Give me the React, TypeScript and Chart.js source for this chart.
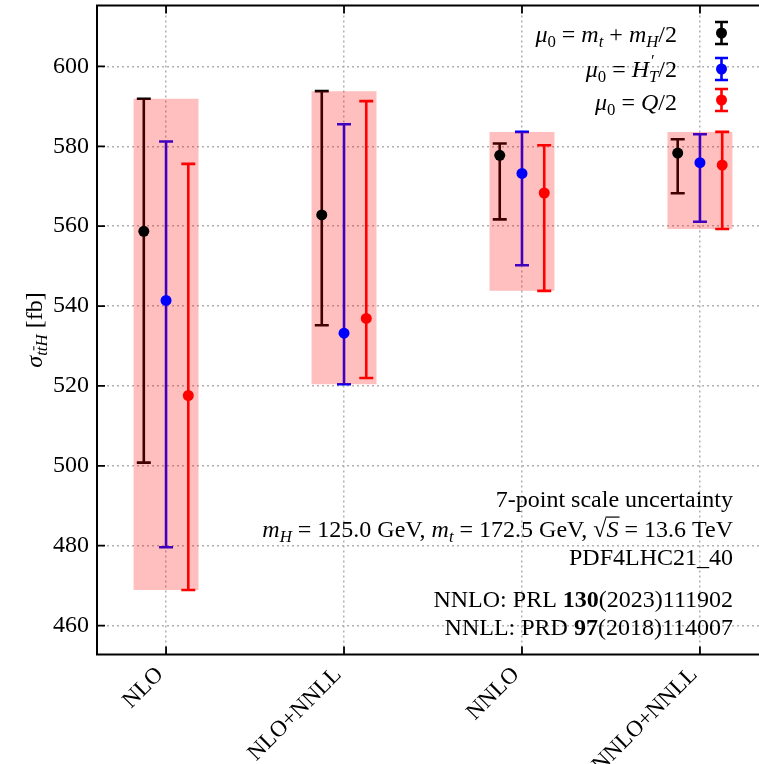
import React, { useEffect, useRef } from 'react';
import { Chart, registerables } from 'chart.js';

Chart.register(...registerables);

// ---------------- data ----------------
const categories = ['NLO', 'NLO+NNLL', 'NNLO', 'NNLO+NNLL'];
const yTickValues = [460, 480, 500, 520, 540, 560, 580, 600];

// mu0 = mt + mH/2 (black)
const blackCentral = [558.7, 562.8, 577.75, 578.3];
const blackLow = [500.8, 535.2, 561.7, 568.25];
const blackHigh = [591.9, 593.8, 580.7, 581.75];
// mu0 = H'_T/2 (blue)
const blueCentral = [541.4, 533.2, 573.2, 575.9];
const blueLow = [479.6, 520.4, 550.2, 561.1];
const blueHigh = [581.2, 585.5, 583.6, 583.0];
// mu0 = Q/2 (red)
const redCentral = [517.6, 536.9, 568.3, 575.3];
const redLow = [468.9, 522.0, 543.8, 559.3];
const redHigh = [575.6, 591.3, 580.25, 583.6];

const seriesNames = ['mu0 = mt + mH/2', "mu0 = H'T/2", 'mu0 = Q/2'];
const seriesColors = ['#000000', '#0000ff', '#ff0000'];
const seriesOffsets = [-0.125, 0, 0.125];

const series = [
  { color: seriesColors[0], c: blackCentral, lo: blackLow, hi: blackHigh },
  { color: seriesColors[1], c: blueCentral, lo: blueLow, hi: blueHigh },
  { color: seriesColors[2], c: redCentral, lo: redLow, hi: redHigh },
];

const boxLow = categories.map((_, i) => Math.min(blackLow[i], blueLow[i], redLow[i]));
const boxHigh = categories.map((_, i) => Math.max(blackHigh[i], blueHigh[i], redHigh[i]));

// ---------------- rich text helpers ----------------
type Run = {
  t?: string;
  it?: boolean;
  b?: boolean;
  sub?: boolean;
  sup?: boolean;
  bar?: boolean;
  over?: boolean;
  stack?: [string, string];
};

const FAMILY = '"Liberation Serif", "Times New Roman", Times, serif';
const BASE = 24;

function fontOf(size: number, it?: boolean, b?: boolean) {
  return `${it ? 'italic ' : ''}${b ? 'bold ' : ''}${size}px ${FAMILY}`;
}

function runWidth(ctx: CanvasRenderingContext2D, r: Run, base: number) {
  if (r.stack) {
    ctx.font = fontOf(base * 0.7, true, false);
    return Math.max(ctx.measureText(r.stack[0]).width, ctx.measureText(r.stack[1]).width);
  }
  const s = r.sub || r.sup ? base * 0.7 : base;
  ctx.font = fontOf(s, r.it, r.b);
  return ctx.measureText(r.t || '').width;
}

function drawRuns(
  ctx: CanvasRenderingContext2D,
  runs: Run[],
  x: number,
  y: number,
  base: number,
  align: 'left' | 'right' | 'center'
) {
  const widths = runs.map((r) => runWidth(ctx, r, base));
  const total = widths.reduce((a, b) => a + b, 0);
  let cx = align === 'right' ? x - total : align === 'center' ? x - total / 2 : x;
  ctx.textAlign = 'left';
  ctx.textBaseline = 'alphabetic';
  ctx.fillStyle = '#000';
  ctx.strokeStyle = '#000';
  runs.forEach((r, k) => {
    const w = widths[k];
    if (r.stack) {
      ctx.font = fontOf(base * 0.7, true, false);
      ctx.fillText(r.stack[0], cx + 1, y - base * 0.45);
      ctx.fillText(r.stack[1], cx, y + base * 0.22);
    } else {
      const s = r.sub || r.sup ? base * 0.7 : base;
      const dy = r.sub ? base * 0.22 : r.sup ? -base * 0.42 : 0;
      ctx.font = fontOf(s, r.it, r.b);
      ctx.fillText(r.t || '', cx, y + dy);
      if (r.bar) {
        ctx.lineWidth = 1;
        ctx.beginPath();
        ctx.moveTo(cx + w * 0.15, y + dy - s * 0.8);
        ctx.lineTo(cx + w * 1.05, y + dy - s * 0.8);
        ctx.stroke();
      }
      if (r.over) {
        ctx.lineWidth = 1.2;
        ctx.beginPath();
        ctx.moveTo(cx - 1, y - s * 0.83);
        ctx.lineTo(cx + w + 1, y - s * 0.83);
        ctx.stroke();
      }
    }
    cx += w;
  });
}

const legendRuns: Run[][] = [
  [
    { t: 'μ', it: true }, { t: '0', sub: true }, { t: ' = ' },
    { t: 'm', it: true }, { t: 't', it: true, sub: true }, { t: ' + ' },
    { t: 'm', it: true }, { t: 'H', it: true, sub: true }, { t: '/2' },
  ],
  [
    { t: 'μ', it: true }, { t: '0', sub: true }, { t: ' = ' },
    { t: 'H', it: true }, { stack: ['′', 'T'] }, { t: '/2' },
  ],
  [
    { t: 'μ', it: true }, { t: '0', sub: true }, { t: ' = ' },
    { t: 'Q', it: true }, { t: '/2' },
  ],
];

const annotationRuns: Run[][] = [
  [{ t: '7-point scale uncertainty' }],
  [
    { t: 'm', it: true }, { t: 'H', it: true, sub: true }, { t: ' = 125.0 GeV, ' },
    { t: 'm', it: true }, { t: 't', it: true, sub: true }, { t: ' = 172.5 GeV, ' },
    { t: '√' }, { t: 'S', it: true, over: true }, { t: ' = 13.6 TeV' },
  ],
  [{ t: 'PDF4LHC21_40' }],
  [{ t: 'NNLO: PRL ' }, { t: '130', b: true }, { t: '(2023)111902' }],
  [{ t: 'NNLL: PRD ' }, { t: '97', b: true }, { t: '(2018)114007' }],
];
const annotationBaselines = [507, 537, 565, 607, 635];

const yTitleRuns: Run[] = [
  { t: 'σ', it: true },
  { t: 't', it: true, sub: true },
  { t: 't', it: true, sub: true, bar: true },
  { t: 'H', it: true, sub: true },
  { t: ' [fb]' },
];

// ---------------- plugins ----------------
const errorBarPlugin = {
  id: 'errorBars',
  beforeDatasetsDraw(chart: any) {
    const { ctx, scales } = chart;
    const x = scales.x;
    const y = scales.y;
    ctx.save();
    series.forEach((s, k) => {
      categories.forEach((_, i) => {
        const px = x.getPixelForValue(i + seriesOffsets[k]);
        const yl = y.getPixelForValue(s.lo[i]);
        const yh = y.getPixelForValue(s.hi[i]);
        ctx.strokeStyle = s.color;
        ctx.lineWidth = 2.6;
        ctx.beginPath();
        ctx.moveTo(px, yl);
        ctx.lineTo(px, yh);
        ctx.moveTo(px - 7, yl);
        ctx.lineTo(px + 7, yl);
        ctx.moveTo(px - 7, yh);
        ctx.lineTo(px + 7, yh);
        ctx.stroke();
      });
    });
    ctx.restore();
  },
};

const overlayPlugin = {
  id: 'overlay',
  afterDraw(chart: any) {
    const { ctx, chartArea, scales } = chart;
    const x = scales.x;
    const y = scales.y;
    ctx.save();
    // frame
    ctx.strokeStyle = '#000';
    ctx.lineWidth = 2;
    ctx.strokeRect(chartArea.left, chartArea.top, chartArea.right - chartArea.left, chartArea.bottom - chartArea.top);
    // inward ticks
    ctx.lineWidth = 1.8;
    ctx.beginPath();
    yTickValues.forEach((v) => {
      const py = y.getPixelForValue(v);
      ctx.moveTo(chartArea.left, py);
      ctx.lineTo(chartArea.left + 8, py);
      ctx.moveTo(chartArea.right, py);
      ctx.lineTo(chartArea.right - 8, py);
    });
    categories.forEach((_, i) => {
      const px = x.getPixelForValue(i);
      ctx.moveTo(px, chartArea.bottom);
      ctx.lineTo(px, chartArea.bottom - 8);
      ctx.moveTo(px, chartArea.top);
      ctx.lineTo(px, chartArea.top + 8);
    });
    ctx.stroke();

    // legend
    const legendMarkerX = 721.5;
    const legendCenters = [33, 69, 100];
    const legendBaselines = [41.7, 76.7, 110];
    seriesColors.forEach((col, k) => {
      const cy = legendCenters[k];
      ctx.strokeStyle = col;
      ctx.fillStyle = col;
      ctx.lineWidth = 2.6;
      ctx.beginPath();
      ctx.moveTo(legendMarkerX, cy - 11);
      ctx.lineTo(legendMarkerX, cy + 11);
      ctx.moveTo(legendMarkerX - 6.5, cy - 11);
      ctx.lineTo(legendMarkerX + 6.5, cy - 11);
      ctx.moveTo(legendMarkerX - 6.5, cy + 11);
      ctx.lineTo(legendMarkerX + 6.5, cy + 11);
      ctx.stroke();
      ctx.beginPath();
      ctx.arc(legendMarkerX, cy, 5.5, 0, Math.PI * 2);
      ctx.fill();
      drawRuns(ctx, legendRuns[k], 677, legendBaselines[k], BASE, 'right');
    });

    // annotations
    annotationRuns.forEach((runs, k) => {
      drawRuns(ctx, runs, 733, annotationBaselines[k], BASE, 'right');
    });

    // y-axis title
    ctx.save();
    ctx.translate(42, (chartArea.top + chartArea.bottom) / 2);
    ctx.rotate(-Math.PI / 2);
    drawRuns(ctx, yTitleRuns, 0, 0, BASE, 'center');
    ctx.restore();

    ctx.restore();
  },
};

// ---------------- component ----------------
export default function App() {
  const canvasRef = useRef<HTMLCanvasElement | null>(null);

  useEffect(() => {
    const canvas = canvasRef.current;
    if (!canvas) return;
    const tickFont = { family: FAMILY, size: BASE };
    const chart = new Chart(canvas, {
      type: 'scatter',
      data: {
        datasets: [
          ...series.map((s, k) => ({
            type: 'scatter' as const,
            label: seriesNames[k],
            data: categories.map((_, i) => ({ x: i + seriesOffsets[k], y: s.c[i] })),
            backgroundColor: s.color,
            borderColor: s.color,
            pointRadius: 5.5,
            pointBorderWidth: 0,
            order: 0,
          })),
          {
            type: 'bar' as const,
            label: 'scale envelope',
            data: categories.map((_, i) => ({ x: i, y: [boxLow[i], boxHigh[i]] })) as any,
            backgroundColor: 'rgba(255,0,0,0.25)',
            borderWidth: 0,
            borderSkipped: false,
            categoryPercentage: 1,
            barPercentage: 0.365,
            grouped: false,
            order: 1,
          } as any,
        ],
      },
      options: {
        responsive: false,
        animation: false,
        devicePixelRatio: 1,
        layout: { padding: { left: 0, right: 11, top: 5, bottom: 0 } },
        plugins: {
          legend: { display: false },
          tooltip: { enabled: false },
          title: { display: false },
        },
        scales: {
          x: {
            type: 'linear',
            offset: false,
            min: -0.388,
            max: 3.388,
            afterBuildTicks: (s: any) => {
              s.ticks = categories.map((_, i) => ({ value: i }));
            },
            afterFit: (s: any) => {
              s.height = 109.5;
              s.paddingLeft = 0;
              s.paddingRight = 0;
              s.paddingTop = 0;
              s.paddingBottom = 0;
            },
            grid: { color: '#b0b0b0', lineWidth: 1.5, drawTicks: false, offset: false },
            border: { display: false, dash: [2, 3] },
            ticks: {
              autoSkip: false,
              minRotation: 45,
              maxRotation: 45,
              padding: 7,
              labelOffset: -6,
              color: '#000',
              font: { family: FAMILY, size: 23 },
              callback: (v: any) => categories[Number(v)] ?? '',
            },
          },
          y: {
            type: 'linear',
            min: 452.75,
            max: 615.25,
            afterBuildTicks: (s: any) => {
              s.ticks = yTickValues.map((v) => ({ value: v }));
            },
            afterFit: (s: any) => {
              s.width = 97;
              s.paddingLeft = 0;
              s.paddingRight = 0;
              s.paddingTop = 0;
              s.paddingBottom = 0;
            },
            grid: { color: '#b0b0b0', lineWidth: 1.5, drawTicks: false },
            border: { display: false, dash: [2, 3] },
            ticks: {
              padding: 8,
              color: '#000',
              font: tickFont,
              callback: (v: any) => String(v),
            },
          },
        },
      } as any,
      plugins: [errorBarPlugin, overlayPlugin],
    });
    return () => chart.destroy();
  }, []);

  return (
    <div
      style={{
        position: 'absolute',
        left: 0,
        top: 0,
        width: 759,
        height: 764,
        overflow: 'hidden',
        background: '#fff',
      }}
    >
      <canvas ref={canvasRef} width={780} height={764} style={{ display: 'block', width: 780, height: 764 }} />
    </div>
  );
}
